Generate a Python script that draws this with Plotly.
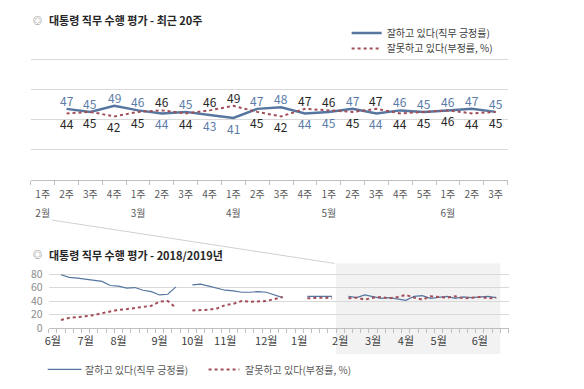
import plotly.graph_objects as go

W, H = 584, 389
FONT = "Noto Sans CJK KR, Noto Sans, sans-serif"

# ---------------- data: recent 20 weeks ----------------
top_weeks = ["1주", "2주", "3주", "4주", "1주", "2주", "3주", "4주", "1주", "2주",
             "3주", "4주", "1주", "2주", "3주", "4주", "5주", "1주", "2주", "3주"]
top_months = ["2월", "", "", "", "3월", "", "", "", "4월", "", "",
              "", "5월", "", "", "", "", "6월", "", ""]
top_pos = [None, 47, 45, 49, 46, 44, 45, 43, 41, 47, 48, 44, 45, 47, 44, 46, 45, 46, 47, 45]
top_neg = [None, 44, 45, 42, 45, 46, 44, 46, 49, 45, 42, 47, 46, 45, 47, 44, 45, 46, 44, 45]

# ---------------- data: 2018/2019 weekly ----------------
bot_months = ["6월", "7월", "8월", "9월", "10월", "11월", "12월", "1월", "2월", "3월", "4월", "5월", "6월"]
weeks_per_month = [4, 4, 5, 4, 4, 5, 4, 5, 4, 4, 4, 5, 4]
early_pos = [None, 79, 75, 74, 72, 70, 69, 63, 62, 59, 60, 56, 54, 49, 50, 61,
             None, 64, 65, 62, 59, 56, 55, 53, 53, 54, 53, 49, 45,
             None, None, 47, 47, 47, 47]
early_neg = [None, 12, 15, 16, 17, 19, 22, 25, 27, 28, 30, 31, 33, 39, 40, 30,
             None, 26, 26, 27, 29, 34, 36, 40, 39, 39, 40, 43, 46,
             None, None, 44, 45, 45, 44]
bot_pos = early_pos + top_pos
bot_neg = early_neg + top_neg

NAME_POS = "잘하고 있다(직무 긍정률)"
NAME_NEG = "잘못하고 있다(부정률, %)"
BLUE = "#5676A0"
BLUE_T = "#5B7BA8"
RED = "#A24E58"
DARK = "#262626"
GRID = "#D9D9D9"
AXIS = "#BFBFBF"


def py(p):
    return 1 - p / H


def px(p):
    return p / W


fig = go.Figure()

x_top = list(range(len(top_weeks)))
fig.add_trace(go.Scatter(
    x=x_top, y=top_pos, mode="lines", name=NAME_POS,
    line=dict(color=BLUE, width=2.5), xaxis="x", yaxis="y", legend="legend",
    hoverinfo="skip"))
fig.add_trace(go.Scatter(
    x=x_top, y=top_neg, mode="lines", name=NAME_NEG,
    line=dict(color=RED, width=2, dash="dot"), xaxis="x", yaxis="y", legend="legend3",
    hoverinfo="skip"))

x_bot = list(range(len(bot_pos)))
fig.add_trace(go.Scatter(
    x=x_bot, y=bot_pos, mode="lines", name=NAME_POS, showlegend=False,
    line=dict(color=BLUE, width=1.2), xaxis="x2", yaxis="y2", hoverinfo="skip"))
fig.add_trace(go.Scatter(
    x=x_bot, y=bot_neg, mode="lines", name=NAME_NEG, showlegend=False,
    line=dict(color=RED, width=2, dash="dot"), xaxis="x2", yaxis="y2", hoverinfo="skip"))

# data labels for the top chart (higher value above, lower value below)
UP, DOWN = 8.5, -10.5
annotations = []
for i, (p, n) in enumerate(zip(top_pos, top_neg)):
    if p is None:
        continue
    pos_on_top = p >= n
    annotations.append(dict(x=i, y=p, xref="x", yref="y", text=str(p), showarrow=False,
                            yanchor="middle", yshift=UP if pos_on_top else DOWN,
                            font=dict(size=12, color=BLUE_T, family=FONT)))
    annotations.append(dict(x=i, y=n, xref="x", yref="y", text=str(n), showarrow=False,
                            yanchor="middle", yshift=DOWN if pos_on_top else UP,
                            font=dict(size=12, color=DARK, family=FONT)))

# titles
annotations += [
    dict(text="◎", x=px(27), y=py(14), xref="paper", yref="paper", xanchor="left",
         yanchor="middle", showarrow=False, font=dict(size=9, color="#595959", family=FONT)),
    dict(text="<b>대통령 직무 수행 평가 - 최근 20주</b>", x=px(43), y=py(14), xref="paper",
         yref="paper", xanchor="left", yanchor="middle", showarrow=False,
         font=dict(size=11, color=DARK, family=FONT)),
    dict(text="◎", x=px(27), y=py(257), xref="paper", yref="paper", xanchor="left",
         yanchor="middle", showarrow=False, font=dict(size=9, color="#595959", family=FONT)),
    dict(text="<b>대통령 직무 수행 평가 - 2018/2019년</b>", x=px(43), y=py(257), xref="paper",
         yref="paper", xanchor="left", yanchor="middle", showarrow=False,
         font=dict(size=11, color=DARK, family=FONT)),
    # bottom legend texts
    dict(text=NAME_POS, x=px(80), y=py(376), xref="paper", yref="paper", xanchor="left",
         yanchor="middle", showarrow=False, font=dict(size=10, color="#595959", family=FONT)),
    dict(text=NAME_NEG, x=px(241), y=py(376), xref="paper", yref="paper", xanchor="left",
         yanchor="middle", showarrow=False, font=dict(size=10, color="#595959", family=FONT)),
]

# tick texts
top_ticktext = [(f"<span style='font-size:10px'>{w}</span><br><span style='font-size:10px'>{m}</span>" if m
                 else f"<span style='font-size:10px'>{w}</span>") for w, m in zip(top_weeks, top_months)]
month_slots = []
acc = 0
for n in weeks_per_month:
    month_slots.append(acc)
    acc += n

n_early = len(early_pos)
n_all = len(bot_pos)


def leg(x, y, color):
    return dict(x=px(x), y=py(y), xanchor="left", yanchor="middle",
                bgcolor="rgba(0,0,0,0)", font=dict(size=10, color=color, family=FONT),
                itemwidth=30, borderwidth=0)


fig.update_layout(
    width=W, height=H, autosize=False,
    margin=dict(l=0, r=0, t=0, b=0),
    paper_bgcolor="white", plot_bgcolor="rgba(0,0,0,0)",
    font=dict(family=FONT, color="#404040"),
    xaxis=dict(domain=[px(27), px(507)], range=[-0.5, len(top_weeks) - 0.5],
               tickmode="array", tickvals=x_top, ticktext=top_ticktext, ticks="",
               tickfont=dict(size=14, color="#595959"), ticklabelstandoff=1,
               showline=True, linecolor=AXIS, linewidth=1, showgrid=False, zeroline=False,
               minor=dict(tickmode="linear", tick0=-0.5, dtick=1, ticks="outside", ticklen=4,
                          tickcolor=AXIS, showgrid=False),
               anchor="y", fixedrange=True),
    yaxis=dict(domain=[py(179), py(23)], range=[0, 100], dtick=20, showticklabels=False,
               gridcolor=GRID, zeroline=False, showline=False, anchor="x", fixedrange=True),
    xaxis2=dict(domain=[px(45), px(508)], range=[-0.5, 55.5],
                tickmode="array", tickvals=month_slots, ticktext=bot_months, ticks="",
                tickfont=dict(size=11, color="#404040"), ticklabelstandoff=3,
                showline=True, linecolor=AXIS, linewidth=1, showgrid=False, zeroline=False,
                minor=dict(tickmode="linear", tick0=-0.5, dtick=1, ticks="outside", ticklen=4,
                           tickcolor=AXIS, showgrid=False),
                anchor="y2", fixedrange=True),
    yaxis2=dict(domain=[py(333), py(333 - 0.7 * 82)], range=[0, 82],
                tickmode="array", tickvals=[0, 20, 40, 60, 80],
                tickfont=dict(size=10.5, color="#8C8C8C"), ticklabelstandoff=5,
                gridcolor=GRID, zeroline=False, showline=False, anchor="x2", fixedrange=True),
    legend=leg(345, 27, "#404040"),
    legend3=leg(345, 43, "#404040"),
    showlegend=True,
    shapes=[
        dict(type="rect", xref="x2", yref="paper", x0=n_early - 0.5, x1=n_all - 0.5,
             y0=py(360), y1=py(266), fillcolor="#F2F2F2", line=dict(width=0), layer="below"),
        dict(type="line", xref="paper", yref="paper", x0=px(48), y0=py(221), x1=px(333), y1=py(266),
             line=dict(color="#D0D0D0", width=1)),
        # bottom legend samples
        dict(type="line", xref="paper", yref="paper", x0=px(44), y0=py(376), x1=px(78), y1=py(376),
             line=dict(color=BLUE, width=1.2)),
        dict(type="line", xref="paper", yref="paper", x0=px(206), y0=py(376), x1=px(237), y1=py(376),
             line=dict(color=RED, width=2, dash="dot")),
    ],
    annotations=annotations,
)

fig.write_html("out.html", config={"displayModeBar": False},
               post_script="document.body.style.margin='0px';document.body.style.overflow='hidden';")
